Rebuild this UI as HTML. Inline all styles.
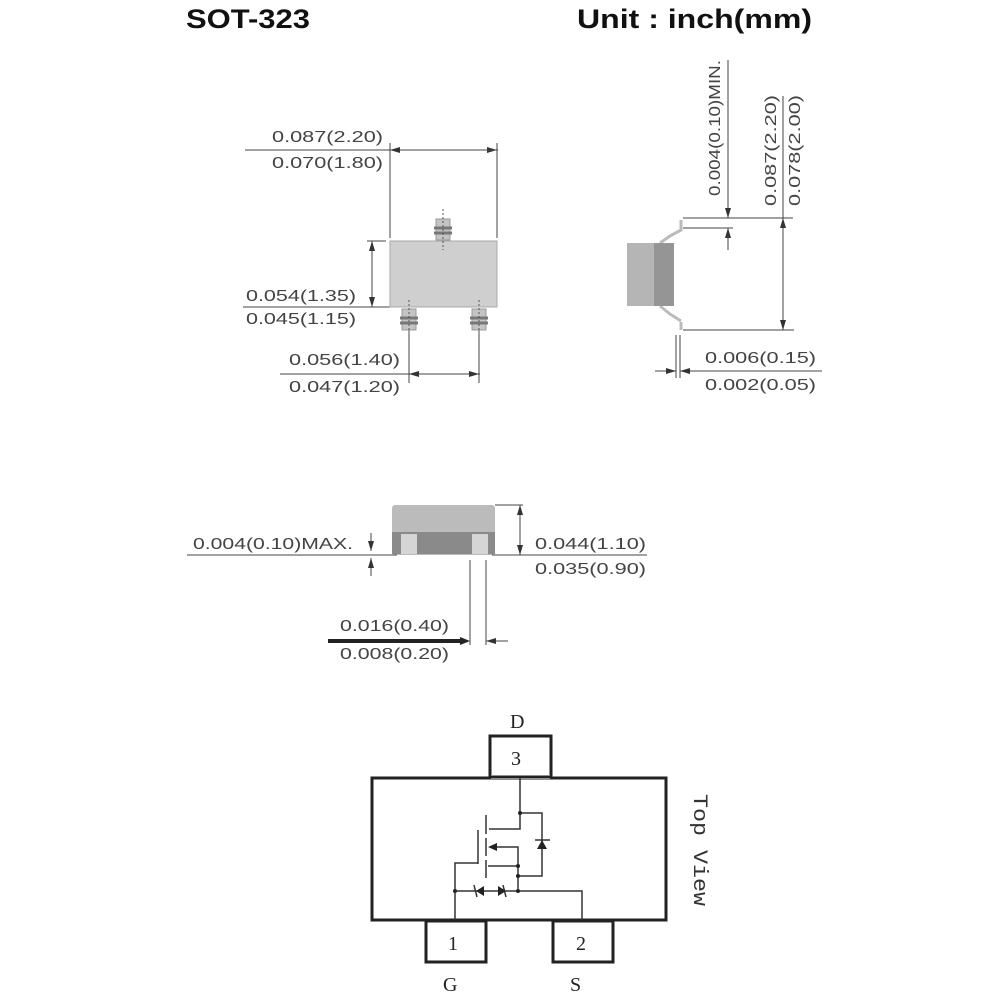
<!DOCTYPE html>
<html><head><meta charset="utf-8"><style>
html,body{margin:0;padding:0;background:#fff;}
svg{display:block}
.t{font-family:"Liberation Sans",sans-serif;font-size:16px;fill:#444;}
.s{font-family:"Liberation Serif",serif;font-size:20px;fill:#222;}
</style></head><body>
<svg width="1000" height="1000" viewBox="0 0 1000 1000" xmlns="http://www.w3.org/2000/svg">
<defs>
<marker id="a" markerWidth="10" markerHeight="6" refX="10" refY="3" orient="auto" markerUnits="userSpaceOnUse"><path d="M0,0 L10,3 L0,6 Z" fill="#333"/></marker>
</defs>
<g font-family="Liberation Sans, sans-serif" font-weight="bold" fill="#111">
<text x="186" y="28" font-size="27" textLength="124" lengthAdjust="spacingAndGlyphs">SOT-323</text>
<text x="577" y="28" font-size="27" textLength="235" lengthAdjust="spacingAndGlyphs">Unit : inch(mm)</text>
</g>

<g stroke="#444" stroke-width="1" fill="none">
<!-- top view -->
<line x1="245" y1="150" x2="498" y2="150"/>
<line x1="390" y1="150" x2="497" y2="150" marker-end="url(#a)"/>
<line x1="497" y1="150" x2="390" y2="150" marker-end="url(#a)"/>
<line x1="390" y1="143" x2="390" y2="238"/>
<line x1="497" y1="143" x2="497" y2="238"/>
<line x1="367" y1="241" x2="386" y2="241"/>
<line x1="372" y1="295" x2="372" y2="241" marker-end="url(#a)"/>
<line x1="372" y1="255" x2="372" y2="307" marker-end="url(#a)"/>
<line x1="243" y1="307" x2="390" y2="307"/>
<line x1="280" y1="374" x2="480" y2="374"/>
<line x1="440" y1="374" x2="409" y2="374" marker-end="url(#a)"/>
<line x1="440" y1="374" x2="479" y2="374" marker-end="url(#a)"/>
<line x1="409" y1="330" x2="409" y2="383"/>
<line x1="479" y1="330" x2="479" y2="383"/>
</g>
<rect x="390" y="241" width="107" height="66" fill="#cfcfcf" stroke="#aaa"/>
<g fill="#c4c4c4" stroke="#999" stroke-width="1">
<rect x="436" y="219" width="14" height="21"/>
<rect x="402" y="309" width="14" height="21"/>
<rect x="472" y="309" width="14" height="21"/>
</g>
<g stroke="#777" stroke-width="3">
<line x1="434" y1="228" x2="452" y2="228"/><line x1="434" y1="233" x2="452" y2="233"/>
<line x1="400" y1="318" x2="418" y2="318"/><line x1="400" y1="323" x2="418" y2="323"/>
<line x1="470" y1="318" x2="488" y2="318"/><line x1="470" y1="323" x2="488" y2="323"/>
</g>
<g stroke="#555" stroke-dasharray="2,2"><line x1="443" y1="209" x2="443" y2="250"/><line x1="409" y1="300" x2="409" y2="335"/><line x1="479" y1="300" x2="479" y2="335"/></g>
<g class="t">
<text x="272" y="142" textLength="111" lengthAdjust="spacingAndGlyphs">0.087(2.20)</text>
<text x="272" y="168" textLength="111" lengthAdjust="spacingAndGlyphs">0.070(1.80)</text>
<text x="246" y="301" textLength="110" lengthAdjust="spacingAndGlyphs">0.054(1.35)</text>
<text x="246" y="324" textLength="110" lengthAdjust="spacingAndGlyphs">0.045(1.15)</text>
<text x="289" y="365" textLength="111" lengthAdjust="spacingAndGlyphs">0.056(1.40)</text>
<text x="289" y="392" textLength="111" lengthAdjust="spacingAndGlyphs">0.047(1.20)</text>
</g>

<!-- side view -->
<path d="M681,220 L681,230 L670,236 L660,243 M681,322 L681,330 M660,306 L670,314 L681,321" stroke="#bbb" stroke-width="3" fill="none"/>
<rect x="627" y="243" width="27" height="63" fill="#b5b5b5"/>
<rect x="654" y="243" width="20" height="63" fill="#959595"/>
<g stroke="#444" stroke-width="1" fill="none">
<line x1="683" y1="218" x2="793" y2="218"/>
<line x1="683" y1="228" x2="733" y2="228"/>
<line x1="728" y1="60" x2="728" y2="218" marker-end="url(#a)"/>
<line x1="728" y1="250" x2="728" y2="228" marker-end="url(#a)"/>
<line x1="783" y1="96" x2="783" y2="330"/>
<line x1="783" y1="270" x2="783" y2="218" marker-end="url(#a)"/>
<line x1="783" y1="270" x2="783" y2="330" marker-end="url(#a)"/>
<line x1="683" y1="330" x2="794" y2="330"/>
<line x1="676" y1="335" x2="676" y2="378"/>
<line x1="680" y1="335" x2="680" y2="378"/>
<line x1="680" y1="371" x2="822" y2="371"/>
<line x1="655" y1="371" x2="676" y2="371" marker-end="url(#a)"/>
<line x1="700" y1="371" x2="680" y2="371" marker-end="url(#a)"/>
</g>
<g class="t">
<text transform="translate(720,196) rotate(-90)" textLength="136" lengthAdjust="spacingAndGlyphs">0.004(0.10)MIN.</text>
<text transform="translate(776,206) rotate(-90)" textLength="111" lengthAdjust="spacingAndGlyphs">0.087(2.20)</text>
<text transform="translate(800,206) rotate(-90)" textLength="111" lengthAdjust="spacingAndGlyphs">0.078(2.00)</text>
<text x="705" y="363" textLength="111" lengthAdjust="spacingAndGlyphs">0.006(0.15)</text>
<text x="705" y="390" textLength="111" lengthAdjust="spacingAndGlyphs">0.002(0.05)</text>
</g>

<!-- front view -->
<rect x="392" y="505" width="103" height="50" rx="3" fill="#bbb"/>
<rect x="392" y="532" width="103" height="22" fill="#8a8a8a"/>
<rect x="401" y="534" width="16" height="20" fill="#d5d5d5"/>
<rect x="472" y="534" width="16" height="20" fill="#d5d5d5"/>
<g stroke="#444" stroke-width="1" fill="none">
<line x1="187" y1="555" x2="397" y2="555"/>
<line x1="492" y1="555" x2="647" y2="555"/>
<line x1="495" y1="505" x2="523" y2="505"/>
<line x1="520" y1="530" x2="520" y2="505" marker-end="url(#a)"/>
<line x1="520" y1="530" x2="520" y2="555" marker-end="url(#a)"/>
<line x1="371" y1="533" x2="371" y2="551" marker-end="url(#a)"/>
<line x1="371" y1="576" x2="371" y2="558" marker-end="url(#a)"/>
<line x1="470" y1="560" x2="470" y2="645"/>
<line x1="486" y1="560" x2="486" y2="645"/>
<line x1="508" y1="641" x2="486" y2="641" marker-end="url(#a)"/>
</g>
<line x1="328" y1="641" x2="462" y2="641" stroke="#222" stroke-width="4"/>
<path d="M460,637 L470,641 L460,645 Z" fill="#222"/>
<g class="t">
<text x="193" y="549" textLength="160" lengthAdjust="spacingAndGlyphs">0.004(0.10)MAX.</text>
<text x="535" y="549" textLength="111" lengthAdjust="spacingAndGlyphs">0.044(1.10)</text>
<text x="535" y="574" textLength="111" lengthAdjust="spacingAndGlyphs">0.035(0.90)</text>
<text x="340" y="631" textLength="109" lengthAdjust="spacingAndGlyphs">0.016(0.40)</text>
<text x="340" y="659" textLength="109" lengthAdjust="spacingAndGlyphs">0.008(0.20)</text>
</g>

<!-- schematic -->
<g stroke="#222" fill="none">
<rect x="372" y="778" width="294" height="142" stroke-width="3"/>
<rect x="490" y="736" width="61" height="41" stroke-width="3" fill="#fff"/>
<rect x="426" y="921" width="60" height="41" stroke-width="3"/>
<rect x="553" y="921" width="60" height="41" stroke-width="3"/>
</g>
<rect x="491" y="775" width="59" height="4" fill="#fff"/>
<line x1="490" y1="777" x2="551" y2="777" stroke="#222" stroke-width="3"/>
<g class="s">
<text x="510" y="728">D</text>
<text x="511" y="765">3</text>
<text x="448" y="950">1</text>
<text x="576" y="950">2</text>
<text x="443" y="991">G</text>
<text x="570" y="991">S</text>
</g>
<text transform="translate(694,794) rotate(90)" font-family="Liberation Mono, monospace" font-size="20" fill="#333" textLength="112" lengthAdjust="spacingAndGlyphs">Top View</text>
<g stroke="#333" stroke-width="1.5" fill="none">
<polyline points="520,778 520,829 489,829"/>
<polyline points="520,813 542,813 542,876 518,876"/>
<line x1="486" y1="815" x2="486" y2="834"/>
<line x1="486" y1="838" x2="486" y2="856"/>
<line x1="486" y1="860" x2="486" y2="878"/>
<line x1="478" y1="830" x2="478" y2="864"/>
<polyline points="478,863 455,863 455,920"/>
<polyline points="494,847 518,847 518,891"/>
<line x1="488" y1="866" x2="518" y2="866"/>
<polyline points="455,891 582,891 582,920"/>
<line x1="535" y1="840" x2="550" y2="840"/>
<line x1="474" y1="885" x2="477" y2="897"/>
<line x1="503" y1="885" x2="506" y2="897"/>
</g>
<g fill="#222">
<path d="M488,847 L497,843 L497,851 Z"/>
<path d="M542,840 L537,849 L547,849 Z"/>
<path d="M476,891 L484,886 L484,896 Z"/>
<path d="M506,891 L498,886 L498,896 Z"/>
<circle cx="520" cy="813" r="2"/><circle cx="518" cy="866" r="2"/><circle cx="518" cy="876" r="2"/>
<circle cx="455" cy="891" r="2"/><circle cx="518" cy="891" r="2"/>
</g>
</svg>
</body></html>
